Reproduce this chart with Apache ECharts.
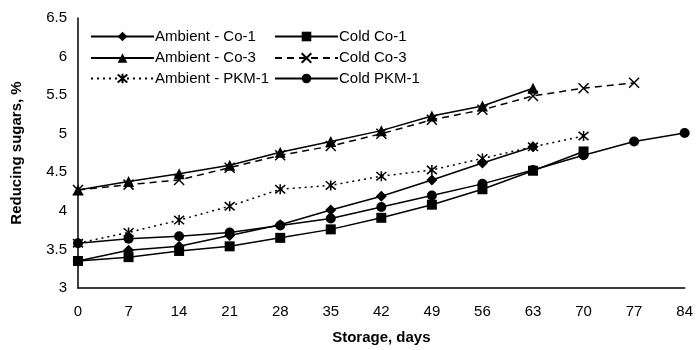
<!DOCTYPE html>
<html>
<head>
<meta charset="utf-8">
<script src="https://cdn.jsdelivr.net/npm/echarts@6/dist/echarts.min.js"></script>
<style>
html,body{margin:0;padding:0;background:#fff;}
#c{width:696px;height:350px;}
</style>
</head>
<body>
<div id="c"></div>
<script>
const days = [0, 7, 14, 21, 28, 35, 42, 49, 56, 63, 70, 77, 84];
const ambientCo1  = [3.35, 3.49, 3.54, 3.68, 3.82, 4.01, 4.19, 4.40, 4.62, 4.83];
const coldCo1     = [3.35, 3.40, 3.48, 3.54, 3.65, 3.76, 3.91, 4.08, 4.28, 4.52, 4.77];
const ambientCo3  = [4.27, 4.38, 4.48, 4.59, 4.76, 4.90, 5.04, 5.23, 5.36, 5.59];
const coldCo3     = [4.27, 4.34, 4.40, 4.56, 4.72, 4.84, 5.00, 5.18, 5.31, 5.49, 5.59, 5.66];
const ambientPKM1 = [3.58, 3.72, 3.88, 4.06, 4.28, 4.33, 4.45, 4.53, 4.68, 4.83, 4.97];
const coldPKM1    = [3.58, 3.64, 3.67, 3.72, 3.81, 3.90, 4.05, 4.20, 4.35, 4.53, 4.72, 4.90, 5.01];
const seriesNames = ['Ambient - Co-1', 'Cold Co-1', 'Ambient - Co-3', 'Cold Co-3', 'Ambient - PKM-1', 'Cold PKM-1'];

const FONT = 'Liberation Sans, Arial, sans-serif';
const crossPath = 'path://M0,0L10,10M10,0L0,10';
const starPath = 'path://M0,0L10,10M10,0L0,10M5,-1L5,11';

function pairs(vals){ return vals.map((v,i)=>[days[i], v]); }

function mk(name, vals, symbol, size, lineType, stroked){
  return {
    name: name, type: 'line', data: pairs(vals),
    symbol: symbol, symbolSize: size, showSymbol: true,
    lineStyle: {color:'#000', width: 1.5, type: lineType},
    itemStyle: stroked ? {color:'rgba(0,0,0,0)', borderColor:'#000', borderWidth:1.5} : {color:'#000', borderWidth:0},
    emphasis: {disabled: true},
    animation: false
  };
}

const series = [
  mk(seriesNames[0], ambientCo1, 'diamond', 11, 'solid', false),
  mk(seriesNames[1], coldCo1, 'rect', 10, 'solid', false),
  mk(seriesNames[2], ambientCo3, 'triangle', 11, 'solid', false),
  mk(seriesNames[3], coldCo3, crossPath, 10, [7,5], true),
  mk(seriesNames[4], ambientPKM1, starPath, 10, [2,4], true),
  mk(seriesNames[5], coldPKM1, 'circle', 10, 'solid', false)
];

const legendPos = [[90,29],[274,29],[90,50.5],[274,50.5],[90,71],[274,71]];
const legends = seriesNames.map((n,i)=>({
  data: [n], left: legendPos[i][0], top: legendPos[i][1],
  itemWidth: 63, itemHeight: 12, itemGap: 0, padding: 0,
  textStyle: {fontFamily: FONT, fontSize: 15, color:'#000', padding:[0,0,0,-4]},
  selectedMode: false
}));

const chart = echarts.init(document.getElementById('c'), null, {renderer:'canvas'});
chart.setOption({
  animation: false,
  backgroundColor: '#fff',
  grid: {left: 78, right: 7, top: 18, bottom: 58, containLabel: false},
  legend: legends,
  xAxis: {
    type: 'value', min: 0, max: 84, interval: 7,
    name: 'Storage, days', nameLocation: 'middle', nameGap: 42,
    nameTextStyle: {fontFamily: FONT, fontSize: 15, fontWeight: 'bold', color:'#000'},
    axisLine: {show: true, lineStyle: {color:'#000', width: 1.5}},
    axisTick: {show: false},
    splitLine: {show: false},
    axisLabel: {fontFamily: FONT, fontSize: 15, color:'#000', margin: 16}
  },
  yAxis: {
    type: 'value', min: 3, max: 6.5, interval: 0.5,
    name: 'Reducing sugars, %', nameLocation: 'middle', nameGap: 54,
    nameTextStyle: {fontFamily: FONT, fontSize: 15, fontWeight: 'bold', color:'#000'},
    axisLine: {show: true, lineStyle: {color:'#000', width: 1.5}},
    axisTick: {show: false},
    splitLine: {show: false},
    axisLabel: {fontFamily: FONT, fontSize: 15, color:'#000', margin: 11}
  },
  series: series
});
</script>
</body>
</html>
